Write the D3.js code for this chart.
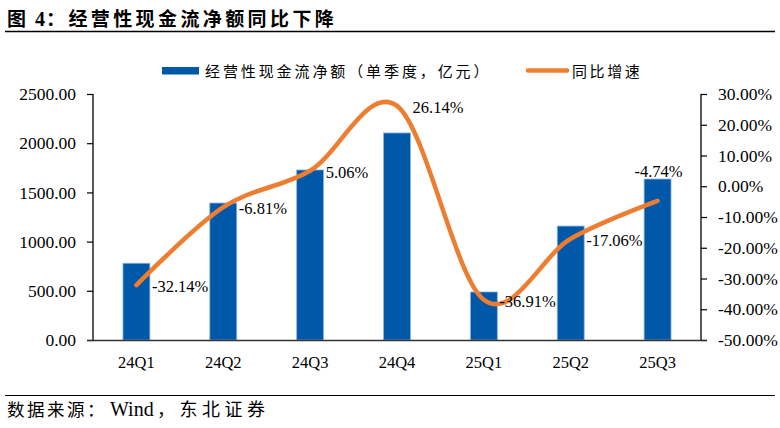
<!DOCTYPE html>
<html>
<head>
<meta charset="utf-8">
<script src="https://cdn.jsdelivr.net/npm/d3@7"></script>
<style>
  body { margin: 0; background: #fff; }
  svg { display: block; }
</style>
</head>
<body>
<div class="chart"></div>
<script>
const quarters = ["24Q1", "24Q2", "24Q3", "24Q4", "25Q1", "25Q2", "25Q3"]
const cashFlow = [780, 1392, 1728, 2104, 488, 1158, 1636]
const growth = [-32.14, -6.81, 5.06, 26.14, -36.91, -17.06, -4.74]
const leftTicks = [0, 500, 1000, 1500, 2000, 2500]
const rightTicks = [-50, -40, -30, -20, -10, 0, 10, 20, 30]

const width = 780, height = 428
const serif = "'Liberation Serif', 'Times New Roman', serif"
const cjk = "'Noto Sans CJK SC', sans-serif"
const blue = "#0058a8", orange = "#ed7d31"

const svg = d3.select(".chart").append("svg")
  .attr("width", width)
  .attr("height", height)

// title + rules
const title = svg.append("g").attr("font-weight", "bold")
title.append("text").attr("x", 7).attr("y", 26)
  .attr("font-family", cjk).attr("font-size", 19).text("图")
title.append("text").attr("x", 35).attr("y", 26)
  .attr("font-family", serif).attr("font-size", 20).text("4")
title.append("text").attr("x", 46).attr("y", 26)
  .attr("font-family", cjk).attr("font-size", 19).attr("letter-spacing", 3.4)
  .text("：经营性现金流净额同比下降")

svg.append("line").attr("x1", 5).attr("x2", 775).attr("y1", 31.5).attr("y2", 31.5)
  .attr("stroke", "#000").attr("stroke-width", 1.5)
svg.append("line").attr("x1", 5).attr("x2", 775).attr("y1", 395.5).attr("y2", 395.5)
  .attr("stroke", "#000").attr("stroke-width", 1)

// source
svg.append("text").attr("x", 7).attr("y", 416)
  .attr("font-family", cjk).attr("font-size", 17.5).attr("letter-spacing", 2.5)
  .text("数据来源：")
svg.append("text").attr("x", 110).attr("y", 416)
  .attr("font-family", serif).attr("font-size", 20)
  .text("Wind")
svg.append("text").attr("x", 157).attr("y", 416)
  .attr("font-family", cjk).attr("font-size", 18).attr("letter-spacing", 4.5)
  .text("，东北证券")

const plotL = 93, plotR = 701, plotT = 94, plotB = 340

const x = d3.scaleBand().domain(quarters).range([plotL, plotR]).paddingInner(0.69).paddingOuter(0.345)
const yL = d3.scaleLinear().domain([0, 2500]).range([plotB, plotT])
const yR = d3.scaleLinear().domain([-50, 30]).range([plotB, plotT])

// bars
svg.append("g").selectAll("rect")
  .data(quarters)
  .join("rect")
    .attr("x", d => x(d))
    .attr("width", x.bandwidth())
    .attr("y", (d, i) => yL(cashFlow[i]))
    .attr("height", (d, i) => plotB - yL(cashFlow[i]))
    .attr("fill", blue)
    .attr("stroke", "#8fb3dc")
    .attr("stroke-width", 0.8)

// axes
const axL = svg.append("g").attr("transform", `translate(${plotL},0)`)
  .call(d3.axisLeft(yL).tickValues(leftTicks).tickFormat(d3.format(".2f")).tickSize(6).tickPadding(11))
const axR = svg.append("g").attr("transform", `translate(${plotR},0)`)
  .call(d3.axisRight(yR).tickValues(rightTicks).tickFormat(d => d.toFixed(2) + "%").tickSize(6).tickPadding(11))
const axB = svg.append("g").attr("transform", `translate(0,${plotB})`)
  .call(d3.axisBottom(x).tickSize(0).tickPadding(16))

;[axL, axR, axB].forEach(a => {
  a.selectAll("text").attr("font-family", serif).attr("font-size", 17.5).attr("fill", "#000")
  a.selectAll("line").attr("stroke", "#000").attr("stroke-width", 1.2)
  a.select(".domain").attr("stroke", "#000").attr("stroke-width", 1.3)
})
axB.selectAll("text").attr("font-size", 16.5)
axB.select(".domain").attr("d", `M${plotL - 6},0.5H${plotR + 6}`).attr("stroke", "#333")
axL.select(".domain").attr("d", `M0,${plotT}V${plotB}`)
axR.select(".domain").attr("d", `M0,${plotT}V${plotB}`)

// line
const line = d3.line()
  .x((d, i) => x(quarters[i]) + x.bandwidth() / 2)
  .y(d => yR(d))
  .curve(d3.curveCardinal.tension(0))

svg.append("path")
  .datum(growth)
  .attr("d", line)
  .attr("fill", "none")
  .attr("stroke", orange)
  .attr("stroke-width", 4.5)
  .attr("stroke-linecap", "round")

// labels
svg.append("g").selectAll("text")
  .data(growth)
  .join("text")
    .attr("x", (d, i) => {
      const cx = x(quarters[i]) + x.bandwidth() / 2
      return i === 6 ? cx + 1 : cx + 15.5
    })
    .attr("y", (d, i) => i === 6 ? yL(cashFlow[i]) - 2.5 : yR(d) + 7)
    .attr("text-anchor", (d, i) => i === 6 ? "middle" : "start")
    .attr("font-family", serif).attr("font-size", 16.5)
    .text(d => d.toFixed(2) + "%")

// legend
const lg = svg.append("g")
lg.append("rect").attr("x", 162).attr("y", 67).attr("width", 37).attr("height", 7.5).attr("fill", blue)
lg.append("text").attr("x", 205).attr("y", 77)
  .attr("font-family", cjk).attr("font-size", 15).attr("letter-spacing", 2.9)
  .text("经营性现金流净额（单季度，亿元）")
lg.append("line").attr("x1", 528).attr("x2", 567).attr("y1", 70.5).attr("y2", 70.5)
  .attr("stroke", orange).attr("stroke-width", 4.5).attr("stroke-linecap", "round")
lg.append("text").attr("x", 572).attr("y", 77)
  .attr("font-family", cjk).attr("font-size", 15).attr("letter-spacing", 2.6)
  .text("同比增速")
</script>
</body>
</html>
